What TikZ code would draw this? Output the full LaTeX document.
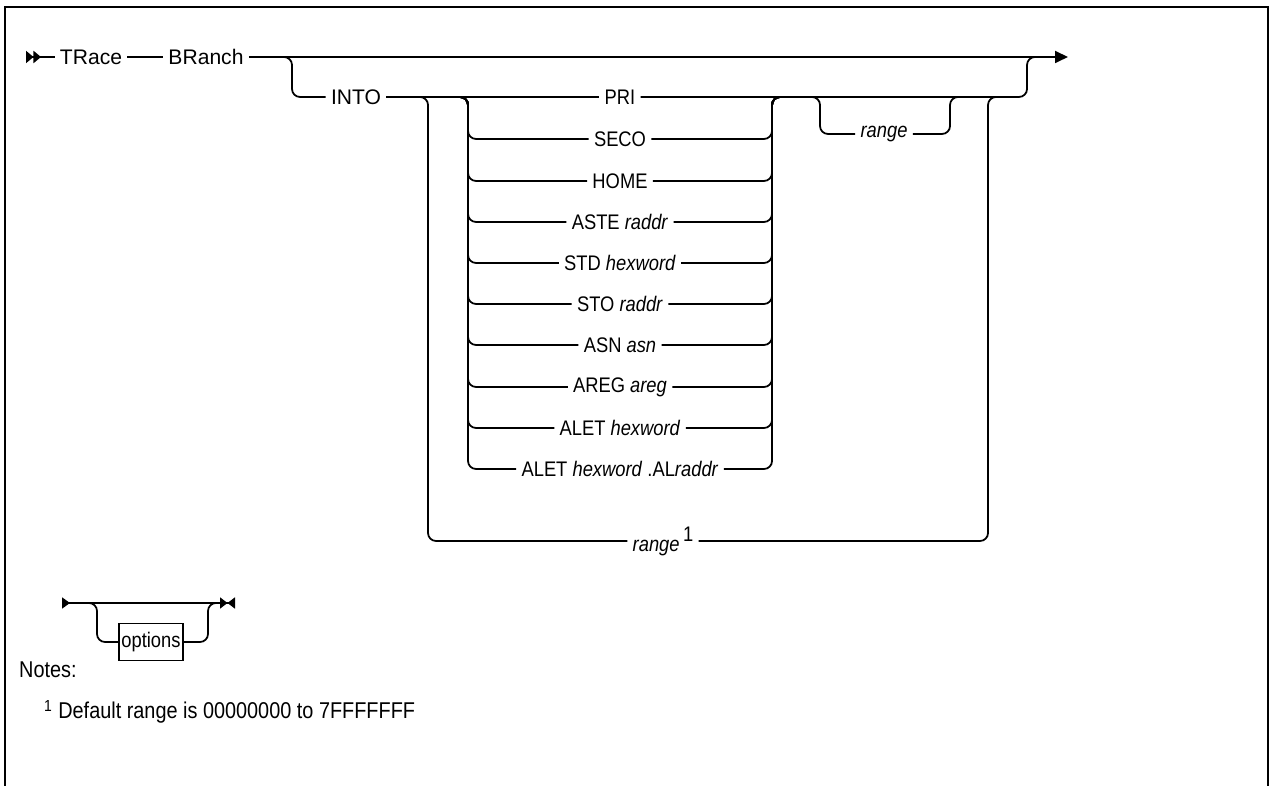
\documentclass[tikz,border=0pt]{standalone}
\usepackage{fontspec}
\setmainfont{Liberation Sans}
\newfontfamily\condfont[FakeStretch=0.87]{Liberation Sans}
\usetikzlibrary{positioning,arrows.meta,calc}

\begin{document}
\begin{tikzpicture}[
  x=0.02cm, y=-0.02cm,
  every node/.style={font=\fontsize{12}{14}\selectfont, text=black},
  rail/.style={line width=1pt, rounded corners=0.16cm},
  kw/.style={inner xsep=0.1cm, inner ysep=0.05cm},
  ch/.style={kw, font=\condfont\fontsize{12}{14}\selectfont},
  optbox/.style={draw, line width=1pt, minimum width=1.28cm,
                 minimum height=0.74cm, inner sep=0pt,
                 font=\condfont\fontsize{12}{14}\selectfont},
  notetxt/.style={anchor=west, font=\condfont\fontsize{13}{15}\selectfont},
]
\useasboundingbox (0,0) rectangle (1274,786);

% ── Frame ──
\draw[line width=1.5pt] (5,786) -- (5,7) -- (1268,7) -- (1268,786);

% ── Main line ──
\coordinate (start) at (26,57);
\node[kw] (trace) at (91,57) {TRace};
\node[kw] (branch) at (206,57) {BRanch};
\coordinate (stop) at (1068,57);
\draw[rail, {Triangle[reversed, length=0.15cm, width=0.24cm]Triangle[reversed, length=0.15cm, width=0.24cm]}-]
  (start) -- (trace);
\draw[rail] (trace) -- (branch);
\draw[rail, -{Triangle[length=0.26cm, width=0.24cm]}] (branch) -- (stop);

% ── INTO branch ──
\node[kw] (into) at (356,97) {INTO};
\draw[rail] (278,57) -| (292,97) -- (into);

% ── Choices ──
\node[ch] (pri)  at (620,97)  {PRI};
\node[ch] (seco) at (620,139) {SECO};
\node[ch] (home) at (620,181) {HOME};
\node[ch] (aste) at (620,222) {ASTE \textit{raddr}};
\node[ch] (std)  at (620,263) {STD \textit{hexword}};
\node[ch] (sto)  at (620,304) {STO \textit{raddr}};
\node[ch] (asn)  at (620,345) {ASN \textit{asn}};
\node[ch] (areg) at (620,387) {AREG \textit{areg}};
\node[ch] (alet) at (620,428) {ALET \textit{hexword}};
\node[ch] (alal) at (620,469) {ALET \textit{hexword} .AL\textit{raddr}};

\coordinate (cl) at (468,97);
\coordinate (cr) at (772,97);
\coordinate (rejoin) at (1045,57);
\draw[rail] (into) -- (pri);
\draw[rail] (pri) -- (1027,97) |- (rejoin);

\draw[rail] ($(cl)+(-20,0)$) -| (cl |- seco) -- (seco) (seco) -- (cr |- seco) |- ($(cr)+(20,0)$);
\draw[rail] ($(cl)+(-20,0)$) -| (cl |- home) -- (home) (home) -- (cr |- home) |- ($(cr)+(20,0)$);
\draw[rail] ($(cl)+(-20,0)$) -| (cl |- aste) -- (aste) (aste) -- (cr |- aste) |- ($(cr)+(20,0)$);
\draw[rail] ($(cl)+(-20,0)$) -| (cl |- std) -- (std) (std) -- (cr |- std) |- ($(cr)+(20,0)$);
\draw[rail] ($(cl)+(-20,0)$) -| (cl |- sto) -- (sto) (sto) -- (cr |- sto) |- ($(cr)+(20,0)$);
\draw[rail] ($(cl)+(-20,0)$) -| (cl |- asn) -- (asn) (asn) -- (cr |- asn) |- ($(cr)+(20,0)$);
\draw[rail] ($(cl)+(-20,0)$) -| (cl |- areg) -- (areg) (areg) -- (cr |- areg) |- ($(cr)+(20,0)$);
\draw[rail] ($(cl)+(-20,0)$) -| (cl |- alet) -- (alet) (alet) -- (cr |- alet) |- ($(cr)+(20,0)$);
\draw[rail] ($(cl)+(-20,0)$) -| (cl |- alal) -- (alal) (alal) -- (cr |- alal) |- ($(cr)+(20,0)$);

% ── Optional range ──
\node[ch] (rng) at (884,134) {\textit{range}};
\draw[rail] (800,97) -| (820,134) -- (rng) (rng) -- (950,134) |- (970,97);

% ── Default range ──
\node[ch] (rngdef) at (663,541) {\textit{range}\,\raisebox{0.9ex}{1}};
\draw[rail] (405,97) -| (428,541) -- (rngdef) (rngdef) -- (988,541) |- (1010,97);

% ── Options fragment ──
\coordinate (ostart) at (62,603);
\coordinate (ostop) at (235,603);
\node[optbox] (opt) at (151,642) {options};
\draw[rail, {Triangle[reversed, length=0.16cm, width=0.22cm]}-{Triangle[length=0.15cm, width=0.22cm] Triangle[reversed, length=0.15cm, width=0.22cm]}]
  (ostart) -- (ostop);
\draw[rail] (80,603) -| (97,642) -- (opt) (opt) -- (208,642) |- (226,603);

% ── Notes ──
\node[notetxt] (notes) at (13,670) {Notes:};
\node[notetxt] (fn) at (38,712) {\textsuperscript{1} Default range is 00000000 to 7FFFFFFF};

\end{tikzpicture}
\end{document}
